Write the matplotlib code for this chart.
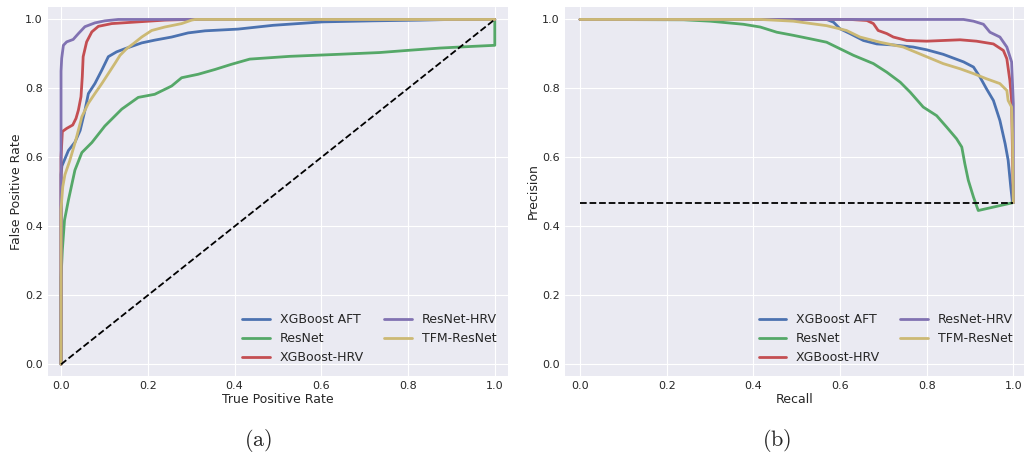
import matplotlib
matplotlib.use("Agg")
import matplotlib.pyplot as plt

plt.style.use("seaborn-v0_8-darkgrid")
plt.rcParams["font.family"] = ["DejaVu Sans"]
plt.rcParams["mathtext.fontset"] = "cm"

names = ["XGBoost AFT", "ResNet", "XGBoost-HRV", "ResNet-HRV", "TFM-ResNet"]
colors = ["#4C72B0", "#55A868", "#C44E52", "#8172B2", "#CCB974"]

# ROC curves (x = "True Positive Rate" label, y = "False Positive Rate" label, as in the original)
roc_x = [
    [0, 0.0, 0.002, 0.017, 0.032, 0.044, 0.055, 0.063, 0.078, 0.094, 0.109, 0.128, 0.147, 0.186,
     0.216, 0.255, 0.293, 0.332, 0.408, 0.489, 0.604, 0.72, 0.827, 0.9, 1.0],
    [0, 0.0, 0.003, 0.008, 0.017, 0.032, 0.048, 0.071, 0.101, 0.14, 0.178, 0.216, 0.255, 0.278,
     0.316, 0.355, 0.393, 0.435, 0.527, 0.642, 0.734, 0.796, 0.873, 0.95, 1.0, 1.0],
    [0, 0.0, 0.003, 0.013, 0.027, 0.0345, 0.04, 0.046, 0.049, 0.051, 0.059, 0.071, 0.086, 0.117,
     0.178, 0.239, 0.293, 1.0],
    [0, 0.0, 0.0015, 0.0054, 0.013, 0.028, 0.040, 0.055, 0.078, 0.101, 0.132, 1.0],
    [0, 0.0, 0.004, 0.009, 0.02, 0.034, 0.048, 0.063, 0.078, 0.094, 0.109, 0.124, 0.136, 0.151,
     0.167, 0.186, 0.209, 0.239, 0.278, 0.301, 0.309, 1.0],
]
roc_y = [
    [0, 0.55, 0.575, 0.62, 0.644, 0.678, 0.736, 0.785, 0.814, 0.853, 0.892, 0.906, 0.915, 0.932,
     0.94, 0.949, 0.961, 0.967, 0.972, 0.983, 0.993, 0.996, 0.998, 1.0, 1.0],
    [0, 0.25, 0.331, 0.418, 0.476, 0.563, 0.614, 0.643, 0.691, 0.74, 0.774, 0.783, 0.807, 0.831,
     0.841, 0.855, 0.87, 0.885, 0.893, 0.899, 0.904, 0.91, 0.917, 0.922, 0.925, 1.0],
    [0, 0.6, 0.675, 0.684, 0.694, 0.713, 0.737, 0.776, 0.834, 0.892, 0.935, 0.964, 0.98, 0.988,
     0.993, 0.998, 1.0, 1.0],
    [0, 0.85, 0.887, 0.925, 0.935, 0.942, 0.959, 0.979, 0.99, 0.996, 1.0, 1.0],
    [0, 0.45, 0.515, 0.55, 0.59, 0.65, 0.718, 0.757, 0.785, 0.814, 0.843, 0.872, 0.896, 0.915,
     0.93, 0.949, 0.968, 0.978, 0.988, 0.998, 1.0, 1.0],
]

# precision-recall curves
pr_recall = [
    [0, 0.569, 0.585, 0.6, 0.623, 0.654, 0.685, 0.723, 0.769, 0.8, 0.838, 0.885, 0.908, 0.923,
     0.938, 0.954, 0.969, 0.981, 0.988, 0.994, 0.998, 1.0],
    [0, 0.239, 0.3, 0.377, 0.416, 0.454, 0.492, 0.531, 0.569, 0.6, 0.631, 0.677, 0.708, 0.739,
     0.762, 0.792, 0.823, 0.846, 0.869, 0.881, 0.888, 0.896, 0.908, 0.919, 1.0],
    [0, 0.623, 0.662, 0.677, 0.688, 0.708, 0.723, 0.754, 0.8, 0.877, 0.915, 0.954, 0.977, 0.985,
     0.992, 0.996, 1.0],
    [0, 0.885, 0.908, 0.931, 0.946, 0.969, 0.985, 0.996, 1.0, 1.0],
    [0, 0.416, 0.492, 0.569, 0.615, 0.646, 0.692, 0.746, 0.792, 0.838, 0.877, 0.908, 0.938, 0.969,
     0.985, 0.988, 0.996, 0.998, 1.0],
]
pr_precision = [
    [1, 1, 0.992, 0.973, 0.959, 0.939, 0.929, 0.926, 0.92, 0.912, 0.899, 0.877, 0.862, 0.833,
     0.799, 0.765, 0.707, 0.64, 0.592, 0.515, 0.469, 0.469],
    [1, 0.999, 0.995, 0.986, 0.978, 0.963, 0.954, 0.944, 0.934, 0.915, 0.896, 0.872, 0.847, 0.818,
     0.789, 0.746, 0.721, 0.688, 0.654, 0.63, 0.582, 0.534, 0.485, 0.446, 0.469],
    [1, 1, 0.997, 0.988, 0.968, 0.959, 0.949, 0.939, 0.937, 0.941, 0.937, 0.929, 0.91, 0.886,
     0.823, 0.765, 0.469],
    [1, 1, 0.995, 0.986, 0.963, 0.949, 0.92, 0.877, 0.756, 0.469],
    [1, 1, 0.995, 0.982, 0.968, 0.949, 0.934, 0.92, 0.896, 0.872, 0.857, 0.843, 0.828, 0.814,
     0.794, 0.765, 0.746, 0.669, 0.469],
]
baseline = 0.469
ticks = [0.0, 0.2, 0.4, 0.6, 0.8, 1.0]

fig = plt.figure(figsize=(10.24, 4.61), dpi=100)
ax1 = fig.add_axes([0.0469, 0.185, 0.449, 0.799])
ax2 = fig.add_axes([0.5518, 0.185, 0.4482, 0.799])

for i in range(len(names)):
    ax1.plot(roc_x[i], roc_y[i], color=colors[i], lw=2, label=names[i])
    ax2.plot(pr_recall[i], pr_precision[i], color=colors[i], lw=2, label=names[i])

ax1.plot([0, 1], [0, 1], "k--", lw=1.3)
ax2.plot([0, 1], [baseline, baseline], "k--", lw=1.3)

ax1.set_xlim(-0.03, 1.03)
ax2.set_xlim(-0.0346, 1.0246)
for ax in (ax1, ax2):
    ax.set_ylim(-0.033, 1.035)
    ax.set_xticks(ticks)
    ax.set_yticks(ticks)
    ax.tick_params(labelsize=8, colors=".15", length=0, pad=3.8)
    ax.legend(loc="lower right", ncol=2, fontsize=9, frameon=False,
              borderaxespad=0.5, columnspacing=1.6, handlelength=2.2)

ax1.set_xlabel("True Positive Rate", fontsize=9, labelpad=1.5)
ax1.set_ylabel("False Positive Rate", fontsize=9, labelpad=1.5)
ax2.set_xlabel("Recall", fontsize=9, labelpad=1.5)
ax2.set_ylabel("Precision", fontsize=9, labelpad=1.5)

fig.text(0.252, 0.045, r"$\mathrm{(a)}$", fontsize=16, ha="center", va="center")
fig.text(0.7585, 0.045, r"$\mathrm{(b)}$", fontsize=16, ha="center", va="center")

fig.savefig("out.png", dpi=100)
